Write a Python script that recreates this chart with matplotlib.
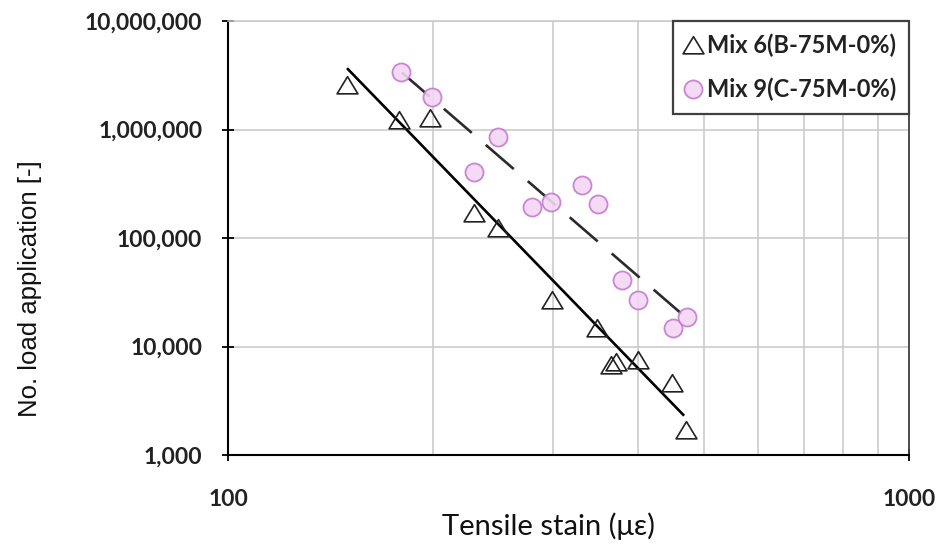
import matplotlib
matplotlib.use("Agg")
import matplotlib.pyplot as plt
import numpy as np
from matplotlib.path import Path
from matplotlib.ticker import FixedLocator, FuncFormatter, NullFormatter

# Mix 6 (triangles)
mix6_strain = [149.5, 178.3, 198, 229.7, 249, 299, 348, 365, 371, 400, 448.7, 470.4]
mix6_cycles = [2.57e6, 1.22e6, 1.28e6, 1.70e5, 1.24e5, 2.68e4, 1.48e4, 6.8e3, 7.2e3, 7.5e3, 4.6e3, 1.70e3]

# Mix 9 (circles)
mix9_strain = [179.3, 199.1, 249.5, 229.7, 279.2, 297.7, 330.7, 349.9, 378.6, 400.6, 450.8, 471.6]
mix9_cycles = [3.41e6, 2.0e6, 8.47e5, 4.08e5, 1.94e5, 2.16e5, 3.08e5, 2.06e5, 4.1e4, 2.68e4, 1.47e4, 1.88e4]

# power-law trend lines (end points)
fit6_strain = [150, 466]
fit6_cycles = [3.6e6, 2.35e3]
fit9_strain = [180, 469]
fit9_cycles = [3.35e6, 1.88e4]

y_ticks = [1e3, 1e4, 1e5, 1e6, 1e7]
x_ticks = [100, 1000]
x_minor = [200, 300, 400, 500, 600, 700, 800, 900]

CAL = ["Lato", "DejaVu Sans"]

# wide, flat triangle like the Excel marker
tri = Path([(-1, -0.8), (1, -0.8), (0, 0.85), (-1, -0.8)],
           [Path.MOVETO, Path.LINETO, Path.LINETO, Path.CLOSEPOLY])

fig = plt.figure(figsize=(9.39, 5.53), dpi=100)
ax = fig.add_axes([228 / 939, 1 - 455 / 553, 681 / 939, 434 / 553])
ax.set_xscale("log")
ax.set_yscale("log")
ax.set_xlim(100, 1000)
ax.set_ylim(1e3, 1e7)

ax.xaxis.set_major_locator(FixedLocator(x_ticks))
ax.xaxis.set_minor_locator(FixedLocator(x_minor))
ax.xaxis.set_minor_formatter(NullFormatter())
ax.yaxis.set_major_locator(FixedLocator(y_ticks))
ax.yaxis.set_minor_locator(FixedLocator([]))
ax.xaxis.set_major_formatter(FuncFormatter(lambda v, p: f"{int(v)}"))
ax.yaxis.set_major_formatter(FuncFormatter(lambda v, p: f"{int(v):,}"))

ax.grid(True, which="both", color="#c8c8c8", lw=1.1)
ax.set_axisbelow(True)

for s in ["left", "bottom"]:
    ax.spines[s].set_linewidth(1.5)
    ax.spines[s].set_color("black")
ax.spines["right"].set_color("#404040")
ax.spines["right"].set_linewidth(1.3)
ax.spines["top"].set_color("#c8c8c8")
ax.spines["top"].set_linewidth(1.1)

ax.tick_params(axis="both", which="major", direction="inout", length=9, width=1.3, color="black")
ax.tick_params(axis="x", which="minor", length=0)
ax.tick_params(axis="x", which="major", pad=20)
ax.tick_params(axis="y", which="major", pad=14)
for lab in ax.get_xticklabels() + ax.get_yticklabels():
    lab.set_family(CAL)
    lab.set_fontsize(16.5)
    lab.set_fontweight("bold")
    lab.set_color("#222222")

# trend lines
ax.plot(fit6_strain, fit6_cycles, color="black", lw=1.9, zorder=3)
ax.plot(fit9_strain, fit9_cycles, color="#2b2b2b", lw=1.9, zorder=3,
        linestyle=(0, (14, 7)))

ax.plot(mix6_strain, mix6_cycles, linestyle="none", marker=tri, ms=15,
        mfc="none", mec="#222222", mew=1.2, zorder=4, label="Mix 6(B-75M-0%)")
ax.plot(mix9_strain, mix9_cycles, linestyle="none", marker="o", ms=13,
        mfc="#f3d6f4", mec="#c57ad0", mew=1.3, alpha=0.9, zorder=4,
        label="Mix 9(C-75M-0%)")

leg = ax.legend(loc="upper right", bbox_to_anchor=(1.0, 1.0), borderaxespad=0,
                frameon=True, fancybox=False, framealpha=1, edgecolor="#404040",
                handlelength=0.6, handletextpad=0.3, borderpad=0.55,
                labelspacing=0.85, prop={"family": CAL, "size": 17, "weight": "bold"})
leg.get_frame().set_linewidth(1.6)
for t in leg.get_texts():
    t.set_color("#222222")

fig.text(548 / 939, 1 - 526 / 553, "Tensile stain (\u03bc\u03b5)", ha="center", va="center",
         fontsize=21, family=CAL, color="#111111")
fig.text(30 / 939, 1 - 289 / 553, "No. load application [-]", rotation=90,
         ha="center", va="center", fontsize=18.5, family="Liberation Sans", color="#111111")

fig.savefig("out.png", dpi=100)
